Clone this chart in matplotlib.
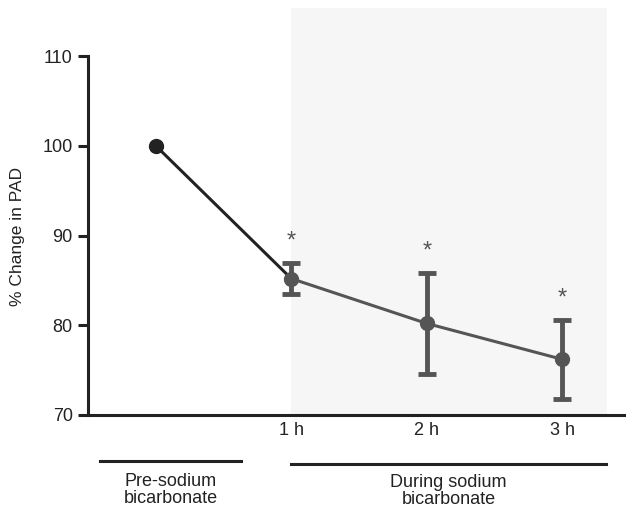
import matplotlib
matplotlib.use("Agg")
import matplotlib.pyplot as plt

plt.rcParams['font.family'] = ['Liberation Sans', 'DejaVu Sans']

# Data
x_pos = [0, 1, 2, 3]
values = [100.0, 85.2, 80.2, 76.2]
errors = [0.0, 1.7, 5.6, 4.4]
tick_labels = ["1 h", "2 h", "3 h"]
sig_marks = ["*", "*", "*"]
group_labels = ["Pre-sodium\nbicarbonate", "During sodium\nbicarbonate"]

dark = '#222222'
gray = '#555555'

fig = plt.figure(figsize=(6.26, 5.11), dpi=100)
ax = fig.add_axes([88/626, 96/511, 538/626, 407/511])

ax.axvspan(1, 3.33, color='#f6f6f6', zorder=0, lw=0)

# first segment (dark)
ax.plot(x_pos[:2], values[:2], color=dark, lw=2.2, zorder=3)
ax.plot(x_pos[0], values[0], 'o', color=dark, ms=10, zorder=4)
# during segment (gray)
ax.plot(x_pos[1:], values[1:], color=gray, lw=2.2, zorder=3)
ax.errorbar(x_pos[1:], values[1:], yerr=errors[1:], fmt='o', color=gray,
            ms=10, elinewidth=3.5, capsize=6.8, capthick=3.5, zorder=4)

# significance asterisks
for xi, v, e, s in zip(x_pos[1:], values[1:], errors[1:], sig_marks):
    ax.text(xi, v + e + 2.4, s, ha='center', va='center', fontsize=17, color=gray)

ax.set_xlim(-0.5, 3.47)
ax.set_ylim(70, 115.35)
ax.set_yticks([70, 80, 90, 100, 110])
ax.spines['left'].set_bounds(70, 110)
ax.spines['top'].set_visible(False)
ax.spines['right'].set_visible(False)
for sp in ['left', 'bottom']:
    ax.spines[sp].set_linewidth(2.2)
    ax.spines[sp].set_color(dark)
ax.tick_params(axis='y', direction='out', length=7, width=2.2, color=dark,
               labelsize=13, pad=4, labelcolor='#222222')
ax.set_xticks(x_pos[1:])
ax.set_xticklabels(tick_labels)
ax.tick_params(axis='x', length=0, labelsize=13, pad=5, labelcolor='#222222')
ax.text((18 - 88) / 538, (511 - 236.5 - 96) / 407, "% Change in PAD",
        rotation=90, ha='center', va='center', fontsize=12.5, color='#222222',
        transform=ax.transAxes)

# group bars below axis
trans = ax.get_xaxis_transform()
ax.plot([-0.41, 0.63], [-0.113, -0.113], color=dark, lw=2.2, clip_on=False, transform=trans)
ax.plot([1.0, 3.32], [-0.12, -0.12], color=dark, lw=2.2, clip_on=False, transform=trans)
ax.text(0.11, -0.143, group_labels[0], ha='center', va='top', fontsize=13,
        linespacing=1.0, transform=trans, color='#222222')
ax.text(2.16, -0.146, group_labels[1], ha='center', va='top', fontsize=13,
        linespacing=1.0, transform=trans, color='#222222')

fig.savefig("out.png", dpi=100)
